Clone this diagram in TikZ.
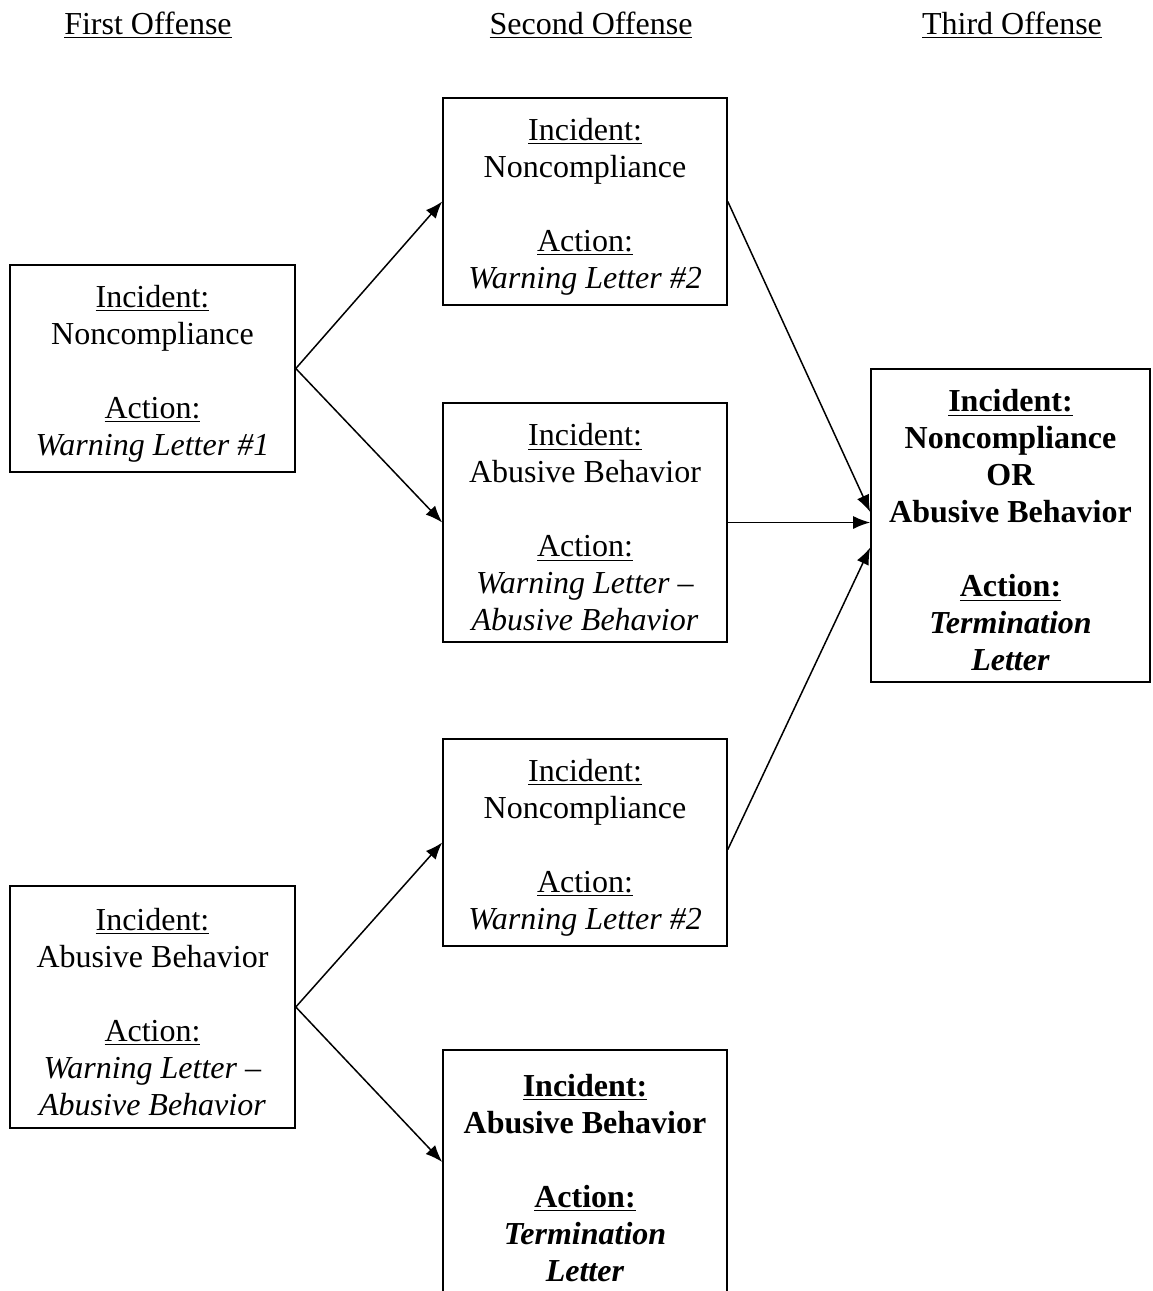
\documentclass[tikz,border=0pt]{standalone}
\usepackage{fontspec}
\setmainfont{Liberation Serif}
\usetikzlibrary{arrows.meta}
\begin{document}
\begin{tikzpicture}[x=0.5pt,y=-0.5pt,
 box/.style={draw, line width=0.8pt, align=center, inner sep=0pt, font=\fontsize{16}{18.5}\selectfont},
 hdr/.style={font=\fontsize{16}{18.5}\selectfont, inner sep=0pt},
 arr/.style={line width=0.75pt, -{Latex[length=8.5pt,width=6.5pt]}}]
\useasboundingbox (0,0) rectangle (1152,1291);
\clip (0,0) rectangle (1152,1291);
\newcommand\topstrut{\rule{0pt}{16pt}}
\node[hdr] (h1) at (148,25) {\underline{First Offense}};
\node[hdr] (h2) at (591,25) {\underline{Second Offense}};
\node[hdr] (h3) at (1012,25) {\underline{Third Offense}};

\node[box, minimum width=142.5pt, minimum height=103.5pt] (A) at (152.5,368.5)
 {\topstrut\underline{Incident:}\\Noncompliance\\[18.5pt]\underline{Action:}\\\textit{Warning Letter \#1}};
\node[box, minimum width=142pt, minimum height=103.5pt] (B) at (585,201.5)
 {\topstrut\underline{Incident:}\\Noncompliance\\[18.5pt]\underline{Action:}\\\textit{Warning Letter \#2}};
\node[box, minimum width=142pt, minimum height=119.5pt] (C) at (585,522.5)
 {\topstrut\underline{Incident:}\\Abusive Behavior\\[18.5pt]\underline{Action:}\\\textit{Warning Letter --}\\\textit{Abusive Behavior}};
\node[box, minimum width=139.5pt, minimum height=156.5pt] (D) at (1010.5,525.5)
 {\topstrut\textbf{\underline{Incident:}}\\\textbf{Noncompliance}\\\textbf{OR}\\\textbf{Abusive Behavior}\\[18.5pt]\textbf{\underline{Action:}}\\\textbf{\textit{Termination}}\\\textbf{\textit{Letter}}};
\node[box, minimum width=142.5pt, minimum height=121pt] (E) at (152.5,1007)
 {\topstrut\underline{Incident:}\\Abusive Behavior\\[18.5pt]\underline{Action:}\\\textit{Warning Letter --}\\\textit{Abusive Behavior}};
\node[box, minimum width=142pt, minimum height=103.5pt] (F) at (585,842.5)
 {\topstrut\underline{Incident:}\\Noncompliance\\[18.5pt]\underline{Action:}\\\textit{Warning Letter \#2}};
\node[box, minimum width=142pt, minimum height=123pt] (G) at (585,1173)
 {\topstrut\textbf{\underline{Incident:}}\\\textbf{Abusive Behavior}\\[18.5pt]\textbf{\underline{Action:}}\\\textbf{\textit{Termination}}\\\textbf{\textit{Letter}}};

\draw[arr] (A.east) -- (B.west);
\draw[arr] (A.east) -- (C.west);
\draw[arr] (E.east) -- (F.west);
\draw[arr] (E.east) -- ([yshift=5.5pt]G.west);
\draw[arr] (B.east) -- ([yshift=6.75pt]D.west);
\draw[arr] (C.east) -- (C.east -| D.west);
\draw[arr] ([yshift=-3.5pt]F.east) -- ([yshift=-11pt]D.west);
\end{tikzpicture}
\end{document}
